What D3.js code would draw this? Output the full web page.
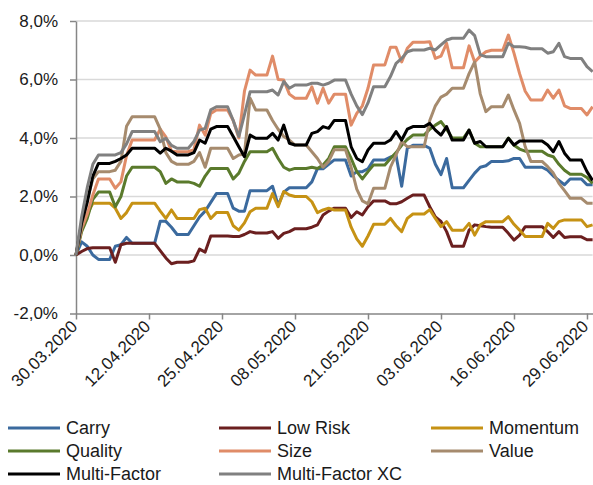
<!DOCTYPE html>
<html>
<head>
<meta charset="utf-8">
<script src="https://cdn.jsdelivr.net/npm/d3@7"></script>
<style>
  body { margin: 0; background: #fff; }
  text { font-family: "Liberation Sans", Arial, sans-serif; }
</style>
</head>
<body>
<div id="chart"></div>
<script>
// daily values (%), 30.03.2020 .. 30.06.2020, one row per week (Mon..Sun)
const carry = [
  0,0.45,0.3,0.0,-0.15,-0.15,-0.15,
  0.3,0.35,0.6,0.4,0.4,0.4,0.4,
  0.4,1.15,1.15,0.95,0.7,0.7,0.7,
  1.0,1.3,1.5,1.8,2.1,2.1,2.1,
  1.6,1.5,1.5,2.2,2.2,2.2,2.2,
  2.35,1.7,2.15,2.3,2.3,2.3,2.3,
  2.5,2.95,2.95,3.1,3.25,3.25,3.25,
  2.7,2.85,2.85,2.95,3.25,3.25,3.25,
  3.35,3.4,2.35,3.65,3.75,3.75,3.75,
  3.65,3.1,2.75,3.3,2.3,2.3,2.3,
  2.55,2.8,3.0,3.05,3.2,3.2,3.2,
  3.22,3.3,3.3,3.0,3.0,3.0,3.0,
  2.9,2.7,2.55,2.4,2.6,2.6,2.6,
  2.4,2.4];
const lowRisk = [
  0,0.12,0.22,0.25,0.25,0.25,0.25,
  -0.25,0.35,0.4,0.4,0.4,0.4,0.4,
  0.4,0.15,-0.1,-0.3,-0.25,-0.25,-0.25,
  -0.2,0.2,0.1,0.65,0.65,0.65,0.65,
  0.63,0.63,0.7,0.8,0.75,0.75,0.75,
  0.8,0.57,0.74,0.8,0.9,0.9,0.9,
  0.95,1.03,1.37,1.5,1.6,1.6,1.6,
  1.28,1.48,1.37,1.65,1.85,1.85,1.85,
  1.75,1.75,1.82,1.94,2.05,2.05,2.05,
  1.65,1.3,1.15,0.8,0.3,0.3,0.3,
  0.85,1.03,1.0,0.97,0.95,0.95,0.95,
  0.74,0.51,0.68,0.97,0.97,0.97,0.97,
  0.8,0.6,0.8,0.6,0.62,0.62,0.62,
  0.52,0.52];
const momentum = [
  0,0.9,1.4,1.77,1.77,1.77,1.77,
  1.6,1.25,1.45,1.77,1.77,1.77,1.77,
  1.77,1.5,1.25,1.54,1.25,1.25,1.25,
  1.25,1.55,1.6,1.25,1.45,1.45,1.45,
  1.0,0.85,1.1,1.48,1.6,1.6,1.6,
  2.1,1.65,2.17,2.05,2.0,2.0,2.0,
  1.82,1.45,1.54,1.6,1.54,1.54,1.54,
  0.95,0.55,0.3,0.65,1.05,1.05,1.05,
  1.25,1.0,0.8,1.25,1.4,1.4,1.4,
  1.55,1.25,0.97,1.14,0.85,0.85,0.85,
  1.08,0.68,1.03,1.14,1.14,1.14,1.14,
  1.31,1.05,0.85,0.63,0.63,0.63,0.63,
  1.08,0.91,1.14,1.2,1.2,1.2,1.2,
  0.97,1.03];
const quality = [
  0,0.8,1.25,1.9,2.15,2.15,2.15,
  1.65,2.0,2.7,3.0,3.0,3.0,3.0,
  3.0,2.85,2.45,2.6,2.5,2.5,2.5,
  2.45,2.35,2.7,2.96,2.96,2.96,2.96,
  2.6,2.8,3.2,3.53,3.53,3.53,3.53,
  3.65,3.3,3.0,2.9,2.96,2.96,2.96,
  3.0,2.96,3.08,3.3,3.7,3.7,3.7,
  3.3,2.85,2.6,2.85,3.08,3.08,3.08,
  3.3,3.5,3.75,3.95,4.1,4.1,4.1,
  4.3,4.44,4.56,4.3,4.0,4.0,4.0,
  4.27,3.82,3.7,3.7,3.7,3.7,3.7,
  4.0,3.75,3.62,3.55,3.55,3.55,3.55,
  3.42,3.36,3.1,2.9,2.76,2.76,2.76,
  2.65,2.45];
const size = [
  0,0.9,1.4,2.05,2.6,2.6,2.6,
  2.28,2.5,3.4,3.93,3.93,3.93,3.93,
  3.93,4.3,4.04,3.55,3.53,3.53,3.53,
  3.6,4.44,4.1,4.84,4.96,4.96,4.96,
  4.6,4.0,5.6,6.32,6.15,6.15,6.15,
  6.8,6.0,5.98,5.5,5.36,5.36,5.36,
  5.75,5.19,5.7,5.19,5.5,5.5,5.5,
  4.44,4.84,5.1,5.7,6.5,6.5,6.5,
  7.1,7.1,6.6,7.07,7.27,7.27,7.27,
  7.29,6.72,6.8,7.24,6.4,6.4,6.4,
  7.15,6.6,6.8,6.95,7.0,7.0,7.0,
  7.52,6.9,6.2,5.6,5.3,5.3,5.3,
  5.64,5.36,5.64,5.1,5.01,5.01,5.01,
  4.79,5.07];
const value = [
  0,1.0,1.9,2.6,2.85,2.85,2.85,
  2.9,3.2,4.4,4.73,4.73,4.73,4.73,
  4.73,4.3,3.5,3.2,3.1,3.1,3.1,
  3.2,3.5,3.0,3.65,3.65,3.65,3.65,
  3.3,3.42,3.45,5.36,4.96,4.96,4.96,
  4.6,4.3,4.05,3.93,3.76,3.76,3.76,
  3.53,3.3,3.0,3.2,3.6,3.6,3.6,
  3.0,2.25,1.85,1.75,2.28,2.28,2.28,
  3.0,3.42,3.88,3.7,3.7,3.7,3.7,
  4.6,5.1,5.4,5.5,5.7,5.7,5.7,
  6.2,6.6,5.5,4.9,5.07,5.07,5.07,
  5.47,4.96,4.5,3.7,3.2,3.2,3.2,
  3.02,2.8,2.45,2.2,1.94,1.94,1.94,
  1.77,1.77];
const multiFactor = [
  0,1.1,1.8,2.7,3.13,3.13,3.13,
  3.2,3.3,3.42,3.65,3.65,3.65,3.65,
  3.65,3.48,3.65,3.55,3.42,3.42,3.42,
  3.5,3.93,3.82,4.3,4.39,4.39,4.39,
  4.05,3.7,3.36,4.1,3.99,3.99,3.99,
  4.16,3.93,4.44,3.82,3.76,3.76,3.76,
  4.16,4.22,4.39,4.33,4.6,4.6,4.6,
  3.7,3.3,3.19,3.59,3.82,3.82,3.82,
  3.93,4.22,3.93,4.3,4.39,4.39,4.39,
  4.5,4.27,4.1,4.39,3.93,3.93,3.93,
  4.27,3.82,3.88,3.7,3.7,3.7,3.7,
  3.99,3.76,3.9,3.9,3.9,3.9,3.9,
  3.76,3.53,3.88,3.48,3.25,3.25,3.25,
  2.85,2.55];
const multiFactorXC = [
  0,1.3,2.3,3.1,3.42,3.42,3.42,
  3.42,3.5,3.8,4.22,4.22,4.22,4.22,
  4.22,3.87,3.99,3.75,3.65,3.65,3.65,
  3.88,4.27,4.33,4.96,5.07,5.07,5.07,
  4.6,4.05,4.8,5.58,5.58,5.58,5.58,
  5.64,5.47,5.93,5.7,5.81,5.81,5.81,
  5.87,5.87,5.81,5.87,5.98,5.98,5.98,
  5.5,5.1,4.8,5.2,5.75,5.75,5.75,
  6.1,6.55,6.72,6.95,7.01,7.01,7.01,
  7.07,7.01,7.18,7.35,7.41,7.41,7.41,
  7.69,7.5,6.84,6.78,6.78,6.78,6.78,
  7.24,7.12,7.12,7.1,7.05,7.05,7.05,
  6.9,6.95,7.24,6.78,6.72,6.72,6.72,
  6.44,6.27];

const seriesNames = ["Carry", "Low Risk", "Momentum", "Quality", "Size", "Value", "Multi-Factor", "Multi-Factor XC"];
const seriesValues = [carry, lowRisk, momentum, quality, size, value, multiFactor, multiFactorXC];
const seriesColors = ["#3b6a9e", "#6b1f1f", "#c69214", "#5a7a2c", "#e08c68", "#a68b6e", "#000000", "#808080"];

const xTickLabels = ["30.03.2020", "12.04.2020", "25.04.2020", "08.05.2020", "21.05.2020", "03.06.2020", "16.06.2020", "29.06.2020"];
const yTickValues = [-2, 0, 2, 4, 6, 8];

const width = 593, height = 485;
const plot = {left: 76, right: 592.6, top: 21, bottom: 313.5};

const svg = d3.select("#chart").append("svg")
  .attr("width", width)
  .attr("height", height);

const parseDay = d3.utcParse("%d.%m.%Y");
const fmtDay = d3.utcFormat("%d.%m.%Y");
const dates = d3.utcDay.range(parseDay("30.03.2020"), parseDay("01.07.2020"));

const x = d3.scaleUtc().domain([dates[0], dates[dates.length - 1]]).range([plot.left, plot.right]);
const y = d3.scaleLinear().domain([-2, 8]).range([plot.bottom, plot.top]);

const deLocale = d3.formatLocale({decimal: ",", thousands: ".", grouping: [3], currency: ["", " €"], minus: "-"});
const fmtPct = v => deLocale.format(".1f")(v) + "%";

// gridlines
svg.append("g")
  .selectAll("line")
  .data(yTickValues.filter(v => v > -2))
  .join("line")
  .attr("x1", plot.left).attr("x2", plot.right)
  .attr("y1", d => y(d)).attr("y2", d => y(d))
  .attr("stroke", "#d9d9d9")
  .attr("stroke-width", 1.5);

// y axis
const yAxis = svg.append("g")
  .attr("transform", `translate(${plot.left},0)`)
  .call(d3.axisLeft(y).tickValues(yTickValues).tickFormat(fmtPct).tickSize(6).tickSizeOuter(0).tickPadding(12));
yAxis.select(".domain").attr("stroke", "#868686").attr("stroke-width", 1.5);
yAxis.selectAll(".tick line").attr("stroke", "#868686").attr("stroke-width", 1.5);
yAxis.selectAll(".tick text").attr("font-size", 17).attr("fill", "#1a1a1a")
  .attr("font-family", "'Liberation Sans', Arial, sans-serif");

// x axis
const xAxis = svg.append("g")
  .attr("transform", `translate(0,${plot.bottom})`)
  .call(d3.axisBottom(x).tickValues(xTickLabels.map(parseDay)).tickFormat(fmtDay).tickSize(6).tickSizeOuter(0));
xAxis.select(".domain").attr("stroke", "#868686").attr("stroke-width", 1.5);
xAxis.selectAll(".tick line").attr("stroke", "#868686").attr("stroke-width", 1.5);
xAxis.selectAll(".tick text")
  .attr("font-size", 17).attr("fill", "#1a1a1a")
  .attr("font-family", "'Liberation Sans', Arial, sans-serif")
  .attr("text-anchor", "end")
  .attr("dy", null)
  .attr("y", 0)
  .attr("transform", "translate(2,14) rotate(-45)");

// lines
const line = d3.line()
  .x((d, i) => x(dates[i]))
  .y(d => y(d));

svg.append("g")
  .selectAll("path")
  .data(seriesValues)
  .join("path")
  .attr("fill", "none")
  .attr("stroke", (d, i) => seriesColors[i])
  .attr("stroke-width", 3)
  .attr("stroke-linejoin", "round")
  .attr("d", line);

// legend, 3 columns
const legendCols = [8, 219, 431];
const legendRows = [428, 451, 474];
const legend = svg.append("g");
seriesNames.forEach((name, i) => {
  const lx = legendCols[i % 3], ly = legendRows[Math.floor(i / 3)];
  legend.append("line")
    .attr("x1", lx).attr("x2", lx + 52)
    .attr("y1", ly).attr("y2", ly)
    .attr("stroke", seriesColors[i])
    .attr("stroke-width", 3);
  legend.append("text")
    .attr("x", lx + 58).attr("y", ly)
    .attr("dy", "0.36em")
    .attr("font-size", 18)
    .attr("fill", "#1a1a1a")
    .text(name);
});
</script>
</body>
</html>
